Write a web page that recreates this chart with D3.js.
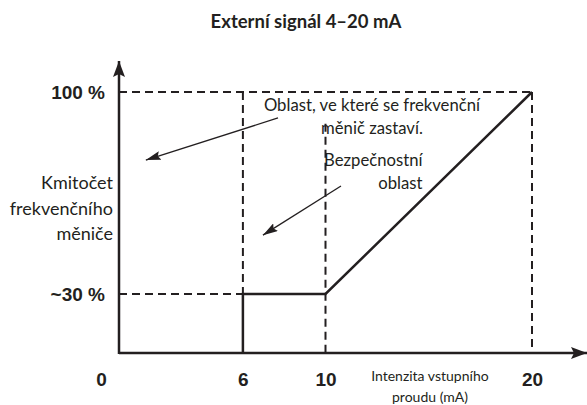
<!DOCTYPE html>
<html>
<head>
<meta charset="utf-8">
<script src="https://cdn.jsdelivr.net/npm/d3@7.9.0/dist/d3.min.js"></script>
<style>
  html, body { margin: 0; padding: 0; background: #fff; }
  svg { display: block; font-family: Lato, "Noto Sans", sans-serif; }
  .tick-label { font-weight: bold; font-size: 19px; fill: #231f20; }
</style>
</head>
<body>
<svg id="chart" width="587" height="405"></svg>
<script>
// chart data (current in mA, frequency in %)
const title = 'Externí signál 4–20 mA';
const xTicks = [0, 6, 10, 20];
const yTicks = [30, 100];
const yTickLabels = ['~30 %', '100 %'];
const yTitle = ['Kmitočet', 'frekvenčního', 'měniče'];
const xTitle = ['Intenzita vstupního', 'proudu (mA)'];

// the characteristic: stop below 6 mA, min ~30 % up to 10 mA, then linear to 100 % at 20 mA
const curve = [[6, 0], [6, 30], [10, 30], [20, 100]];

// dashed guides [from, to]
const guides = [
  [[0, 100], [20, 100]],
  [[0, 30], [6, 30]],
  [[6, 100], [6, 30]],
  [[10, 89], [10, 0]],
  [[20, 100], [20, 0]]
];

// annotations: text lines, anchor, and arrow [from, to]
const notes = [
  { lines: ['Oblast, ve které se frekvenční', 'měnič zastaví.'], at: [12.25, 93.4], anchor: 'middle',
    arrow: [[7.7, 91], [1.3, 76.4]] },
  { lines: ['Bezpečnostní', 'oblast'], at: [14.7, 74.4], anchor: 'end',
    arrow: [[10.75, 67.4], [6.97, 50.4]] }
];

const svg = d3.select('#chart');
const ink = '#231f20';

const x = d3.scaleLinear().domain([0, 20]).range([119, 532]);
// schematic y: the ~30 % level is drawn lower than true scale
const y = d3.scaleLinear().domain([0, 30, 100]).range([353, 294, 92]);

const defs = svg.append('defs');
defs.append('marker')
  .attr('id', 'axis-head')
  .attr('viewBox', '0 0 16 12')
  .attr('refX', 16).attr('refY', 6)
  .attr('markerWidth', 16).attr('markerHeight', 12)
  .attr('markerUnits', 'userSpaceOnUse')
  .attr('orient', 'auto')
  .append('path').attr('d', 'M0,0 L16,6 L0,12 L3,6 Z').attr('fill', ink);
defs.append('marker')
  .attr('id', 'note-head')
  .attr('viewBox', '0 0 15 9')
  .attr('refX', 15).attr('refY', 4.5)
  .attr('markerWidth', 15).attr('markerHeight', 9)
  .attr('markerUnits', 'userSpaceOnUse')
  .attr('orient', 'auto')
  .append('path').attr('d', 'M0,0 L15,4.5 L0,9 L2.5,4.5 Z').attr('fill', ink);

// title
svg.append('text')
  .attr('x', 306).attr('y', 28)
  .attr('text-anchor', 'middle')
  .attr('font-weight', 'bold').attr('font-size', 18.5)
  .attr('fill', ink)
  .text(title);

// dashed guides
svg.append('g')
  .selectAll('line')
  .data(guides)
  .join('line')
  .attr('x1', d => x(d[0][0])).attr('y1', d => y(d[0][1]))
  .attr('x2', d => x(d[1][0])).attr('y2', d => y(d[1][1]))
  .attr('stroke', ink).attr('stroke-width', 2)
  .attr('stroke-dasharray', '8,5');

// axes
svg.append('line')
  .attr('x1', x(0)).attr('y1', y(0))
  .attr('x2', 587).attr('y2', y(0))
  .attr('stroke', ink).attr('stroke-width', 2.5)
  .attr('marker-end', 'url(#axis-head)');
svg.append('line')
  .attr('x1', x(0)).attr('y1', y(0) + 1)
  .attr('x2', x(0)).attr('y2', 61)
  .attr('stroke', ink).attr('stroke-width', 2.5)
  .attr('marker-end', 'url(#axis-head)');

// characteristic curve
svg.append('path')
  .datum(curve)
  .attr('d', d3.line().x(d => x(d[0])).y(d => y(d[1])))
  .attr('fill', 'none')
  .attr('stroke', ink).attr('stroke-width', 2.5)
  .attr('stroke-linejoin', 'miter');

// x tick labels
const xAxis = svg.append('g')
  .attr('transform', `translate(0,${y(0)})`)
  .call(d3.axisBottom(x).tickValues(xTicks).tickSize(0).tickPadding(20));
xAxis.select('.domain').remove();
xAxis.selectAll('text')
  .attr('class', 'tick-label')
  .attr('font-family', null).attr('font-size', null)
  .attr('dx', d => d === 0 ? -18 : 0);

// y tick labels
const yAxis = svg.append('g')
  .attr('transform', `translate(${x(0)},0)`)
  .call(d3.axisLeft(y).tickValues(yTicks).tickFormat((d, i) => yTickLabels[i]).tickSize(0).tickPadding(14));
yAxis.select('.domain').remove();
yAxis.selectAll('text')
  .attr('class', 'tick-label')
  .attr('font-family', null).attr('font-size', null);

// y title
svg.append('text')
  .attr('text-anchor', 'end')
  .attr('font-size', 18).attr('fill', ink)
  .selectAll('tspan')
  .data(yTitle)
  .join('tspan')
  .attr('x', 113)
  .attr('y', (d, i) => 189 + i * 25.5)
  .text(d => d);

// x title
svg.append('text')
  .attr('text-anchor', 'middle')
  .attr('font-size', 14).attr('fill', ink)
  .selectAll('tspan')
  .data(xTitle)
  .join('tspan')
  .attr('x', 430)
  .attr('y', (d, i) => 381 + i * 21)
  .text(d => d);

// annotations
notes.forEach(n => {
  svg.append('line')
    .attr('x1', x(n.arrow[0][0])).attr('y1', y(n.arrow[0][1]))
    .attr('x2', x(n.arrow[1][0])).attr('y2', y(n.arrow[1][1]))
    .attr('stroke', ink).attr('stroke-width', 1.3)
    .attr('marker-end', 'url(#note-head)');
  svg.append('text')
    .attr('text-anchor', n.anchor)
    .attr('font-size', 16.7).attr('fill', ink)
    .selectAll('tspan')
    .data(n.lines)
    .join('tspan')
    .attr('x', x(n.at[0]))
    .attr('y', (d, i) => y(n.at[1]) + i * 23)
    .text(d => d);
});
</script>
</body>
</html>
